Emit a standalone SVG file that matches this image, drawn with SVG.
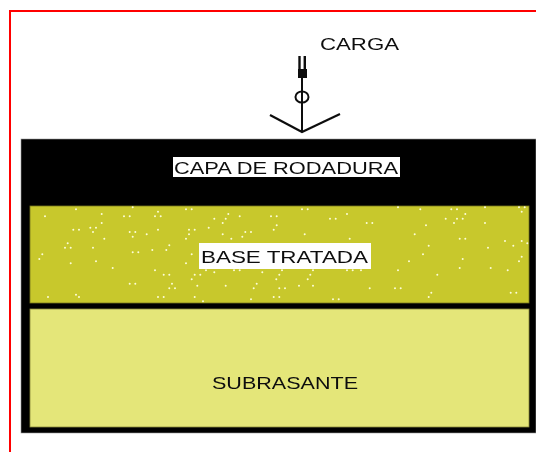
<svg xmlns="http://www.w3.org/2000/svg" width="536" height="452" viewBox="0 0 536 452">
<defs>
<style>
.lbl{font-family:"Liberation Sans",Arial,sans-serif;fill:#111;lengthAdjust:spacingAndGlyphs}
.box{fill:#fff}
.soft{filter:url(#soft)}
.ink{fill:none;stroke:#111}
</style>
<filter id="soft" x="-10%" y="-30%" width="120%" height="160%"><feGaussianBlur stdDeviation="0.6"/></filter>
</defs>
<rect width="536" height="452" fill="#fff"/>
<path id="frame" d="M10 452V11H536" fill="none" stroke="#f00" stroke-width="2"/>
<g id="capa-de-rodadura">
<rect x="21" y="139" width="515" height="294" fill="#000" stroke="#999" stroke-width="0.6"/>
<rect class="box" x="173" y="157" width="227" height="20"/>
<text class="lbl soft" x="174" y="174" font-size="17" textLength="224" lengthAdjust="spacingAndGlyphs">CAPA DE RODADURA</text>
</g>
<g id="base-tratada">
<rect x="30" y="206" width="499" height="97" fill="#c8c82c" stroke="#77771c" stroke-width="0.8"/>
<path fill="none" stroke="#fdfdd8" stroke-width="2" stroke-linecap="round" d="M76 209.3h0M45 216.3h0M101.7 214h0M124 216.3h0M129.7 216.3h0M132.7 207.3h0M158 211.7h0M155 216.3h0M160.7 216.3h0M186 209.3h0M191.7 209.3h0M214.3 218.7h0M228.3 214h0M225.7 218.7h0M222.7 223h0M239.7 216.3h0M101.7 223h0M90.3 227.7h0M96 227.7h0M93 232h0M73.3 229.7h0M79 229.7h0M104.3 238.7h0M129.7 232h0M135.3 232h0M132.7 236.7h0M146.7 234.3h0M158 229.7h0M189 229.7h0M194.7 229.7h0M189 234.3h0M186 238.7h0M208.7 227.7h0M222.7 234.3h0M231.3 238.7h0M245.3 232h0M251 232h0M242.3 236.7h0M67.7 243.3h0M65 247.7h0M70.7 247.7h0M93 247.7h0M42.3 254.3h0M39.3 259h0M70.7 263.3h0M96 261.3h0M112.7 268h0M132.7 252.3h0M138.3 252.3h0M152.3 250h0M166.3 250h0M169.3 245.3h0M191.7 254.3h0M186 263.3h0M155 270.3h0M163.7 274.7h0M169.3 274.7h0M194.7 274.7h0M200.3 274.7h0M191.7 279.3h0M206 270.3h0M214.3 272.3h0M234 270.3h0M239.7 270.3h0M262.3 272.3h0M256.7 283.7h0M253.7 288.3h0M225.7 285.7h0M197.3 285.7h0M172 283.7h0M169.3 288.3h0M175 288.3h0M129.7 283.7h0M135.3 283.7h0M48 297h0M76 294.7h0M79 297h0M158 297h0M163.7 297h0M194.7 297h0M203 301.3h0M251 299.3h0M302 209.3h0M307.7 209.3h0M347 214h0M271 216.3h0M276.7 216.3h0M330 218.7h0M335.7 218.7h0M366.7 223h0M372.3 223h0M276.7 225.3h0M273.7 229.7h0M304.7 234.3h0M349.7 238.7h0M398 207.3h0M420.3 209.3h0M451.3 209.3h0M457 209.3h0M465.3 214h0M445.7 218.7h0M457 218.7h0M462.7 218.7h0M454 223h0M426 225.3h0M485 223h0M485 207.3h0M519 207.3h0M524.7 207.3h0M521.7 211.7h0M414.7 234.3h0M459.7 238.7h0M465.3 238.7h0M505 241h0M521.7 241h0M527.3 243.3h0M513.3 245.7h0M488 247.7h0M428.7 245.7h0M423 254.3h0M409 261.3h0M462.7 259h0M521.7 256.7h0M519 261.3h0M459.7 268h0M490.7 268h0M507.7 270.3h0M398 270.3h0M437.3 274.7h0M282 270.3h0M279.3 274.7h0M276.3 279.3h0M310.3 274.7h0M307.7 279.3h0M313 270.3h0M347 270.3h0M352.7 270.3h0M361 270.3h0M299 285.7h0M313 285.7h0M279.3 288.3h0M285 288.3h0M369.7 288.3h0M395 288.3h0M400.7 288.3h0M431.3 292.7h0M428.7 297h0M510.7 292.7h0M516.3 292.7h0M273.7 297h0M279.3 297h0M333 299.3h0M338.7 299.3h0"/>
<rect class="box" x="199" y="243" width="172" height="26"/>
<text class="lbl soft" x="201" y="263" font-size="17" textLength="167" lengthAdjust="spacingAndGlyphs">BASE TRATADA</text>
</g>
<g id="subrasante">
<rect x="30" y="309" width="499" height="118" fill="#e4e679" stroke="#88883a" stroke-width="0.8"/>
<text class="lbl soft" x="212" y="389" font-size="17" textLength="146" lengthAdjust="spacingAndGlyphs">SUBRASANTE</text>
</g>
<g id="carga">
<text class="lbl soft" x="320" y="50" font-size="16" textLength="79" lengthAdjust="spacingAndGlyphs">CARGA</text>
</g>
<g id="connectors" class="soft">
<path class="ink" stroke-width="2" d="M302 70V132"/>
<path class="ink" stroke-width="2.4" d="M299.5 56V72M304.8 56V72"/>
<path d="M298 69H307V78H298Z" fill="#111"/>
<ellipse class="ink" stroke-width="2" cx="302" cy="97" rx="6.5" ry="5.5"/>
<path class="ink" stroke-width="2.2" d="M270 115L302 132L340 114"/>
</g>
</svg>
